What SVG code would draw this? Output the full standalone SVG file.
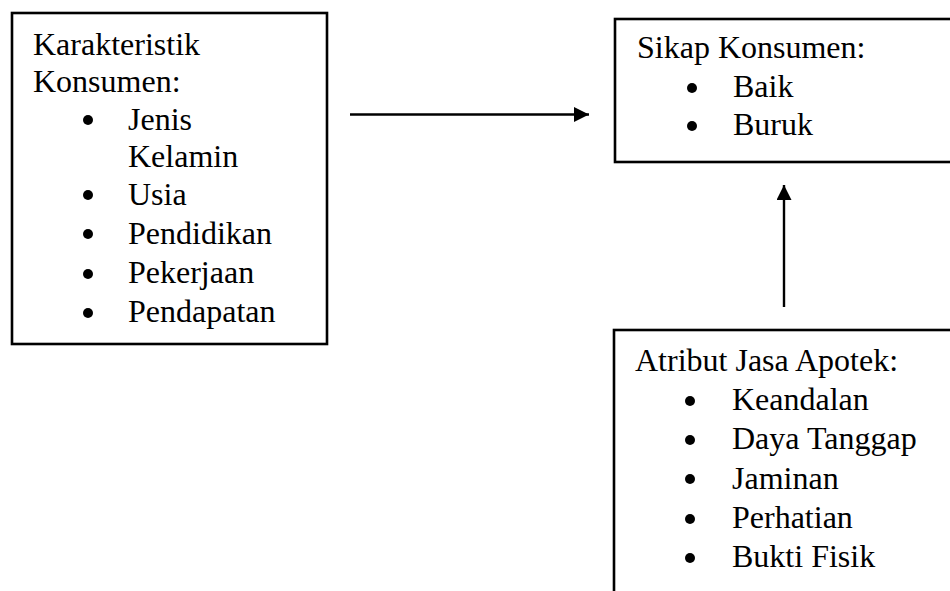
<svg xmlns="http://www.w3.org/2000/svg" width="950" height="591" viewBox="0 0 950 591">
  <style>
    .box { fill: #ffffff; stroke: #000000; stroke-width: 2.6; }
    .t { font-family: "Liberation Serif", "Times New Roman", serif; font-size: 32px; fill: #000000; }
    .dot { fill: #000000; }
    .conn { stroke: #000000; stroke-width: 2.4; fill: none; }
  </style>
  <defs>
    <marker id="arrow" markerUnits="userSpaceOnUse" markerWidth="16" markerHeight="16" refX="15" refY="7.5" orient="auto">
      <path d="M0,0 L15,7.5 L0,15 Z" fill="#000000"/>
    </marker>
  </defs>
  <rect width="950" height="591" fill="#ffffff"/>

  <g id="node-karakteristik">
    <rect class="box" x="12" y="13" width="315" height="331"/>
    <text class="t" x="33" y="55">Karakteristik</text>
    <text class="t" x="33" y="92">Konsumen:</text>
    <circle class="dot" cx="88" cy="120" r="5"/>
    <text class="t" x="128" y="130">Jenis</text>
    <text class="t" x="128" y="167">Kelamin</text>
    <circle class="dot" cx="88" cy="195" r="5"/>
    <text class="t" x="128" y="205">Usia</text>
    <circle class="dot" cx="88" cy="234" r="5"/>
    <text class="t" x="128" y="244">Pendidikan</text>
    <circle class="dot" cx="88" cy="274" r="5"/>
    <text class="t" x="128" y="283">Pekerjaan</text>
    <circle class="dot" cx="88" cy="313" r="5"/>
    <text class="t" x="128" y="322">Pendapatan</text>
  </g>

  <g id="node-sikap">
    <rect class="box" x="615" y="19" width="400" height="143"/>
    <text class="t" x="637" y="58">Sikap Konsumen:</text>
    <circle class="dot" cx="692" cy="88" r="5"/>
    <text class="t" x="733" y="97">Baik</text>
    <circle class="dot" cx="692" cy="126" r="5"/>
    <text class="t" x="733" y="135">Buruk</text>
  </g>

  <g id="node-atribut">
    <rect class="box" x="614" y="330" width="400" height="300"/>
    <text class="t" x="635" y="371">Atribut Jasa Apotek:</text>
    <circle class="dot" cx="690" cy="401" r="5"/>
    <text class="t" x="732" y="410">Keandalan</text>
    <circle class="dot" cx="690" cy="440" r="5"/>
    <text class="t" x="732" y="449">Daya Tanggap</text>
    <circle class="dot" cx="690" cy="479" r="5"/>
    <text class="t" x="732" y="489">Jaminan</text>
    <circle class="dot" cx="690" cy="519" r="5"/>
    <text class="t" x="732" y="528">Perhatian</text>
    <circle class="dot" cx="690" cy="558" r="5"/>
    <text class="t" x="732" y="567">Bukti Fisik</text>
  </g>

  <g id="connectors">
    <line class="conn" x1="350" y1="114.5" x2="589" y2="114.5" marker-end="url(#arrow)"/>
    <line class="conn" x1="784" y1="307" x2="784" y2="185" marker-end="url(#arrow)"/>
  </g>
</svg>
